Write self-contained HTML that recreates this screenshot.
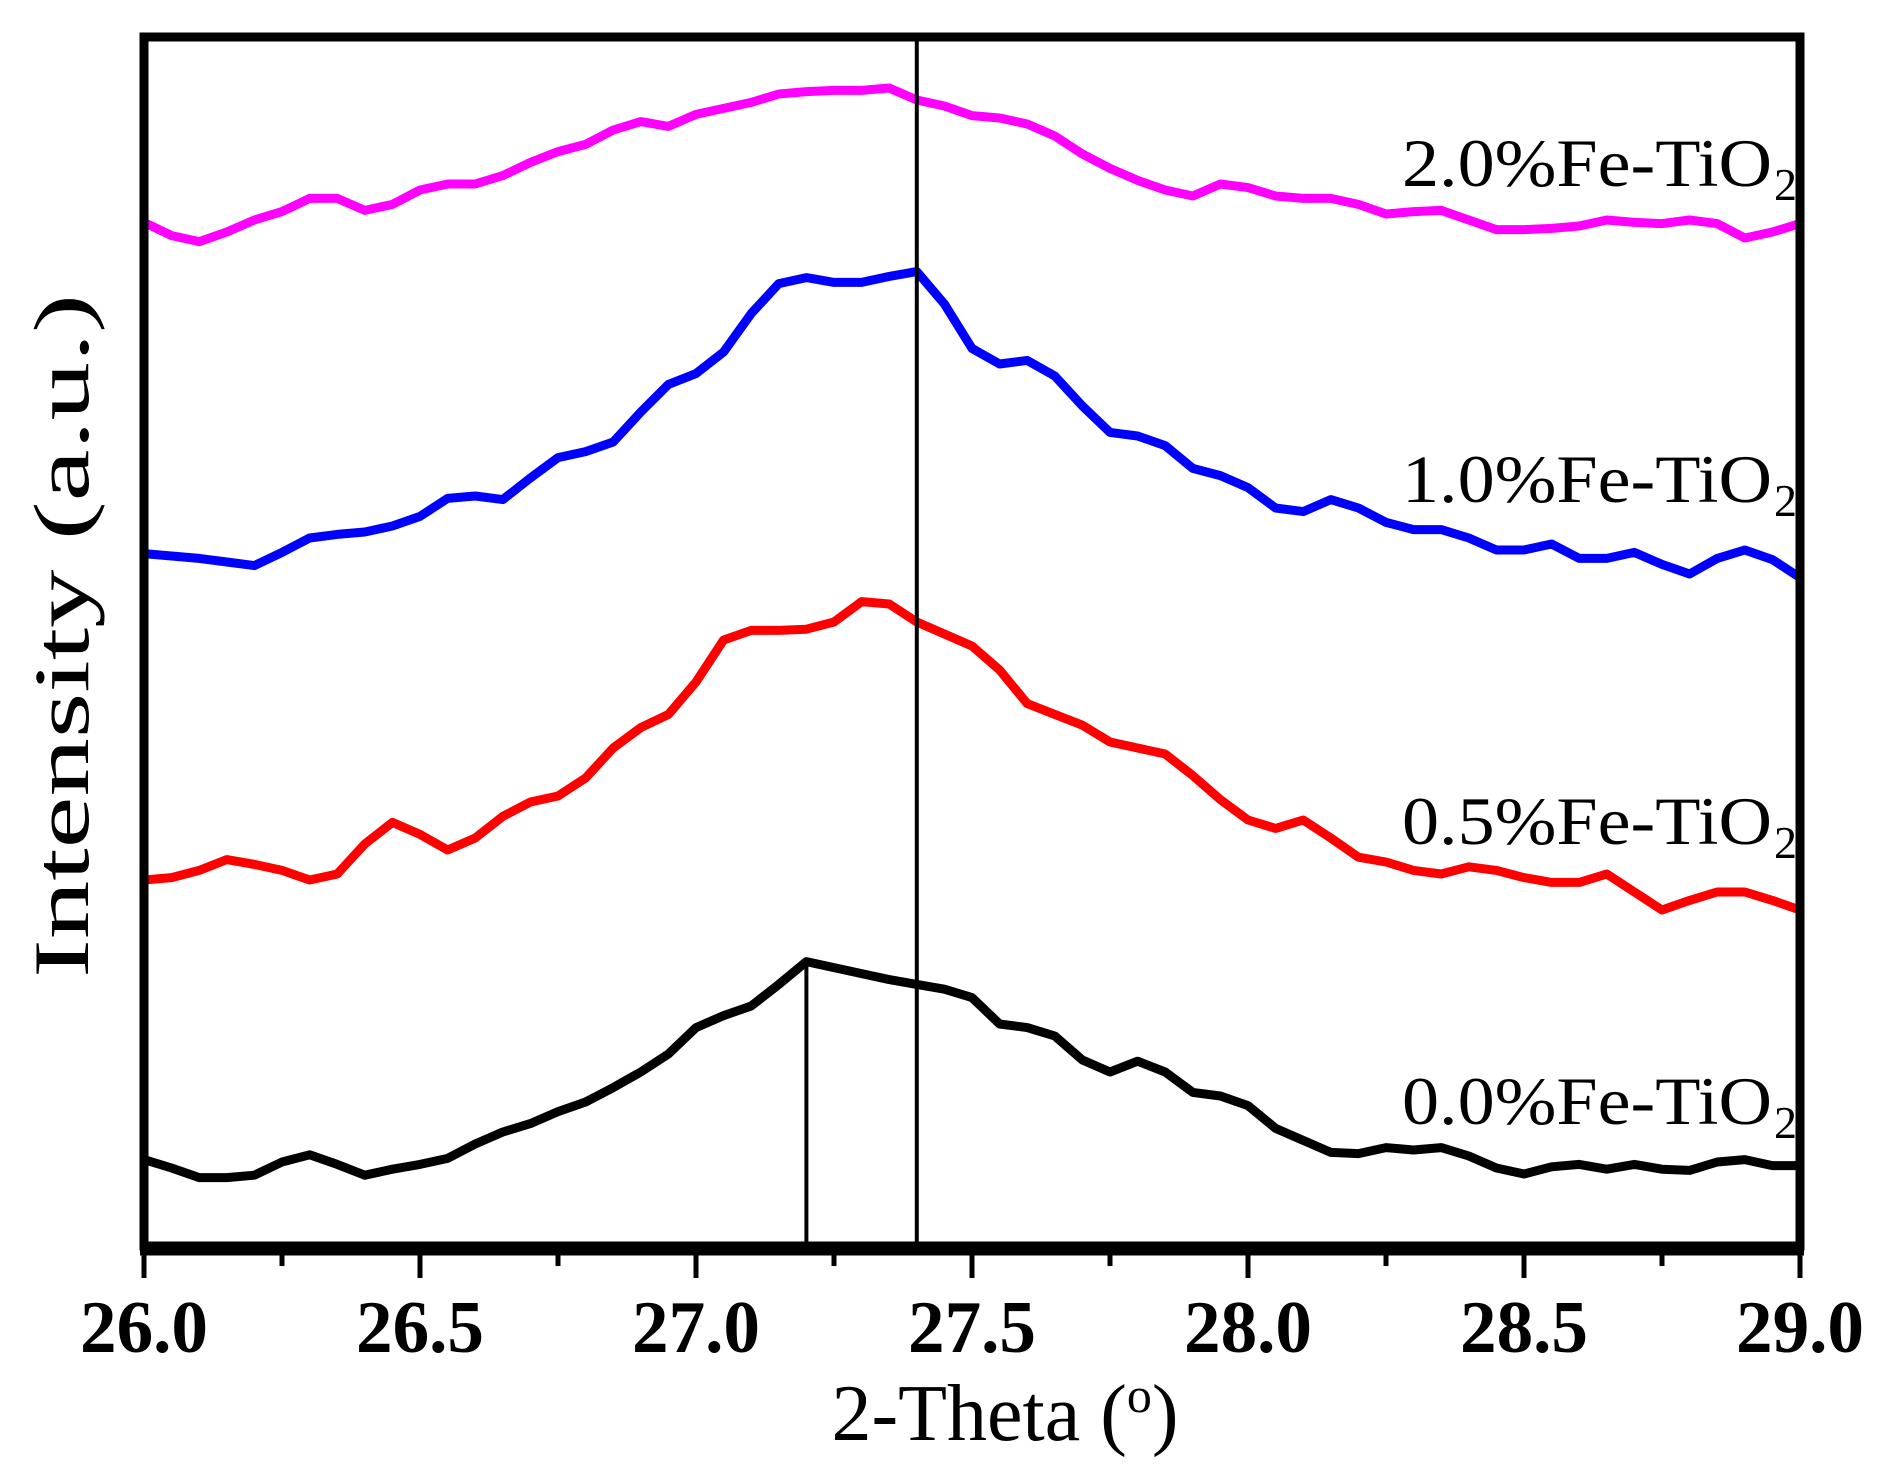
<!DOCTYPE html>
<html><head><meta charset="utf-8"><style>
html,body{margin:0;padding:0;background:#fff}
svg{display:block}
</style></head><body>
<svg id="chart" width="1882" height="1483" viewBox="0 0 1882 1483" xmlns="http://www.w3.org/2000/svg" font-family="'Liberation Serif', serif">
<g id="series"></g>
<g id="frame"></g>
<g id="xaxis"></g>
<text x="1005" y="1440" font-size="80" text-anchor="middle">2-Theta (<tspan font-size="50" dy="-28">o</tspan><tspan dy="28">)</tspan></text>
<text transform="translate(88,636) rotate(-90)" font-size="78" font-weight="normal" text-anchor="middle" textLength="684" lengthAdjust="spacingAndGlyphs">Intensity (a.u.)</text>
</svg>
<script>
const xTicks = [26.0, 26.5, 27.0, 27.5, 28.0, 28.5, 29.0];
const xTickLabels = ["26.0","26.5","27.0","27.5","28.0","28.5","29.0"];
const seriesNames = ["0.0%Fe-TiO", "0.5%Fe-TiO", "1.0%Fe-TiO", "2.0%Fe-TiO"];
const seriesColors = ["#000000", "#ff0000", "#0000ff", "#ff00ff"];
const refLines = [27.2, 27.4];
const thetaStart = 26.0, thetaStep = 0.05;
const s00 = [968,975,983,983,981,970,964,972,981,976,972,967,955,945,938,928,920,908,895,880,858,848,840,822,803,808,813,818,822,826,833,855,858,865,885,895,886,895,912,915,923,942,952,962,963,958,960,958,965,975,980,974,972,976,972,976,977,970,968,973,973];
const s05 = [735,733,727,718,722,727,735,730,705,687,697,710,700,682,670,665,650,625,608,597,570,535,527,527,526,520,503,505,520,530,540,560,588,597,606,620,625,630,648,668,685,692,685,700,716,720,727,730,724,727,733,737,737,730,745,760,752,745,745,752,760];
const s10 = [463,465,467,470,473,462,450,447,445,440,432,417,415,418,400,383,378,370,345,322,313,295,263,238,233,237,237,232,228,255,292,305,302,315,340,362,365,373,392,398,408,425,428,418,425,437,443,443,450,460,460,455,467,467,462,472,480,467,460,468,483];
const s20 = [187,198,203,195,185,178,167,167,177,172,160,155,155,148,137,128,122,110,103,107,97,92,87,80,78,77,77,75,85,90,98,100,105,115,130,142,152,160,165,155,158,165,167,167,172,180,178,177,185,193,193,192,190,185,187,188,185,188,200,195,188];
const labelLevels = [1124, 844, 502, 186];
const peakTop = 803;

const NS = "http://www.w3.org/2000/svg";
const L = 144, R = 1800, T = 33, B = 1246;
function xs(t){ return L + (t - 26) / 3 * (R - L); }
function ys(v){ return 1.2 * v - 2; }
function mk(tag, attrs, parent){ const e = document.createElementNS(NS, tag); for (const k in attrs) e.setAttribute(k, attrs[k]); parent.appendChild(e); return e; }

const sg = document.getElementById('series');
const allSeries = [s00, s05, s10, s20];
const seriesKeys = ['0-0', '0-5', '1-0', '2-0'];
allSeries.forEach((arr, si) => {
  const d = arr.map((v, i) => (i ? 'L' : 'M') + xs(thetaStart + i * thetaStep).toFixed(1) + ' ' + ys(v).toFixed(1)).join(' ');
  const p = mk('path', {d: d, fill: 'none', stroke: seriesColors[si], 'stroke-width': 9, 'stroke-linejoin': 'round', 'stroke-linecap': 'round'}, sg);
  
  
  const t = mk('text', {x: 1402, y: labelLevels[si], 'font-size': 68, textLength: 370, lengthAdjust: 'spacingAndGlyphs'}, sg);
  t.textContent = seriesNames[si];
  
  
  const sub = mk('text', {x: 1774, y: labelLevels[si] + 14, 'font-size': 46}, sg);
  sub.textContent = '2';
  
  
});

const fr = document.getElementById('frame');
const l1 = mk('line', {x1: xs(refLines[0]), x2: xs(refLines[0]), y1: ys(peakTop), y2: B, stroke: '#000', 'stroke-width': 4}, fr);


const l2 = mk('line', {x1: xs(refLines[1]), x2: xs(refLines[1]), y1: T, y2: B, stroke: '#000', 'stroke-width': 4}, fr);


const box = mk('rect', {x: L, y: T + 4, width: R - L, height: B - T - 4, fill: 'none', stroke: '#000', 'stroke-width': 9}, fr);


const bax = mk('line', {x1: L - 4, x2: R + 4, y1: B + 4, y2: B + 4, stroke: '#000', 'stroke-width': 11}, fr);



const xg = document.getElementById('xaxis');
for (let t = 26.0; t <= 29.001; t += 0.25) {
  const major = Math.abs(t * 2 - Math.round(t * 2)) < 1e-6;
  const tk = mk('line', {x1: xs(t), x2: xs(t), y1: B + 8, y2: B + (major ? 32 : 20), stroke: '#000', 'stroke-width': 5}, xg);
  
  
}
xTicks.forEach((t, i) => {
  const lb = mk('text', {x: xs(t), y: 1352, 'font-size': 74, 'font-weight': 'bold', 'text-anchor': 'middle', textLength: 128, lengthAdjust: 'spacingAndGlyphs'}, xg);
  lb.textContent = xTickLabels[i];
  
  
});
</script>
</body></html>
